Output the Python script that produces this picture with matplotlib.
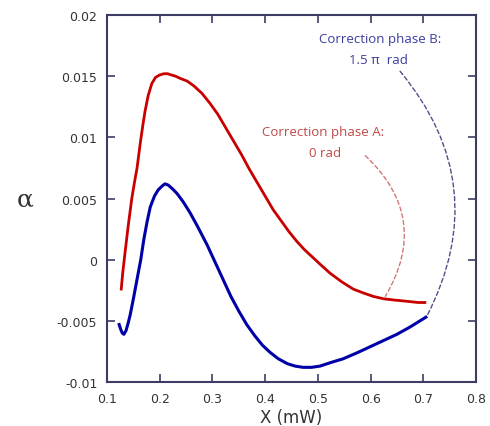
import matplotlib
matplotlib.use("Agg")
import matplotlib.pyplot as plt

# === data ===
red_x = [0.127, 0.130, 0.134, 0.140, 0.147, 0.152, 0.157, 0.163, 0.168, 0.172, 0.178, 0.185,
         0.192, 0.200, 0.208, 0.215, 0.222, 0.230, 0.240, 0.252, 0.265, 0.280, 0.295, 0.310,
         0.325, 0.340, 0.355, 0.370, 0.385, 0.400, 0.415, 0.430, 0.445, 0.460, 0.475, 0.490,
         0.505, 0.523, 0.545, 0.567, 0.585, 0.605, 0.625, 0.645, 0.669, 0.690, 0.703]
red_y = [-0.0024, -0.0010, 0.0005, 0.0027, 0.0050, 0.0063, 0.0075, 0.0095, 0.0110, 0.0121, 0.0134, 0.0144,
         0.0149, 0.0151, 0.0152, 0.0152, 0.0151, 0.0150, 0.0148, 0.0146, 0.0142, 0.0136, 0.0128, 0.0119,
         0.0108, 0.0097, 0.0086, 0.0074, 0.0063, 0.0052, 0.0041, 0.0032, 0.0023, 0.0015, 0.0008, 0.0002,
         -0.0004, -0.0011, -0.0018, -0.0024, -0.0027, -0.0030, -0.0032, -0.0033, -0.0034, -0.0035, -0.0035]

blue_x = [0.123, 0.126, 0.129, 0.132, 0.136, 0.140, 0.144, 0.150, 0.157, 0.164, 0.170, 0.176,
          0.182, 0.190, 0.197, 0.204, 0.210, 0.216, 0.224, 0.233, 0.245, 0.258, 0.272, 0.290,
          0.305, 0.320, 0.335, 0.350, 0.365, 0.380, 0.395, 0.410, 0.425, 0.442, 0.457, 0.472,
          0.488, 0.504, 0.525, 0.548, 0.575, 0.600, 0.625, 0.650, 0.675, 0.705]
blue_y = [-0.0053, -0.0057, -0.0060, -0.0061, -0.0058, -0.0052, -0.0045, -0.0032, -0.0016, 0.0000, 0.0017, 0.0031,
          0.0043, 0.0052, 0.0057, 0.0060, 0.0062, 0.0061, 0.0058, 0.0054, 0.0047, 0.0038, 0.0027, 0.0012,
          -0.0002, -0.0016, -0.0030, -0.0042, -0.0053, -0.0062, -0.0070, -0.0076, -0.0081, -0.0085, -0.0087, -0.0088,
          -0.0088, -0.0087, -0.0084, -0.0081, -0.0076, -0.0071, -0.0066, -0.0061, -0.0055, -0.0047]

x_ticks = [0.1, 0.2, 0.3, 0.4, 0.5, 0.6, 0.7, 0.8]
y_ticks = [-0.01, -0.005, 0, 0.005, 0.01, 0.015, 0.02]
y_labels = ["-0.01", "-0.005", "0", "0.005", "0.01", "0.015", "0.02"]

label_a = ["Correction phase A:", "0 rad"]
label_b = ["Correction phase B:", "1.5 \u03c0  rad"]

RED = "#c80000"
BLUE = "#0000a8"
SPINE = "#3c3c64"

fig = plt.figure(figsize=(4.9, 4.27), dpi=100)
ax = fig.add_axes([0.2184, 0.1030, 0.753, 0.8595])

ax.plot(red_x, red_y, color=RED, lw=2.0, solid_joinstyle="round")
ax.plot(blue_x, blue_y, color=BLUE, lw=2.2, solid_joinstyle="round")

ax.set_xlim(0.1, 0.8)
ax.set_ylim(-0.01, 0.02)
ax.set_xticks(x_ticks)
ax.set_xticklabels([f"{v:g}" for v in x_ticks])
ax.set_yticks(y_ticks)
ax.set_yticklabels(y_labels)
ax.tick_params(direction="in", length=6, width=1.2, color=SPINE,
               top=True, right=True, labelsize=9, labelcolor="#333333", pad=7)
for s in ax.spines.values():
    s.set_color(SPINE)
    s.set_linewidth(1.5)

ax.set_xlabel("X (mW)", fontsize=12, color="#333333", labelpad=2)
fig.text(0.052, 0.532, "\u03b1", fontsize=18, color="#333333", family="DejaVu Serif",
         ha="center", va="center")

# annotations
ax.text(0.510, 0.01044, label_a[0], color="#c04848", fontsize=9.5, ha="center", va="center",
        family="Open Sans")
ax.text(0.5137, 0.0088, label_a[1], color="#c04848", fontsize=9.5, ha="center", va="center",
        family="Open Sans")
ax.text(0.618, 0.01804, label_b[0], color="#3c3ca0", fontsize=9.5, ha="center", va="center",
        family="Open Sans")
ax.text(0.614, 0.0164, label_b[1], color="#3c3ca0", fontsize=9.5, ha="center", va="center",
        family="Open Sans")

ax.annotate("", xy=(0.628, -0.003), xytext=(0.590, 0.0085),
            arrowprops=dict(arrowstyle="-", ls=(0, (3, 2)), lw=1.0, color="#d07878",
                            shrinkA=0, shrinkB=0, connectionstyle="arc3,rad=-0.4"))
ax.annotate("", xy=(0.707, -0.0046), xytext=(0.656, 0.0154),
            arrowprops=dict(arrowstyle="-", ls=(0, (3, 2)), lw=1.0, color="#505088",
                            shrinkA=0, shrinkB=0, connectionstyle="arc3,rad=-0.33"))

fig.savefig("out.png", dpi=100)
